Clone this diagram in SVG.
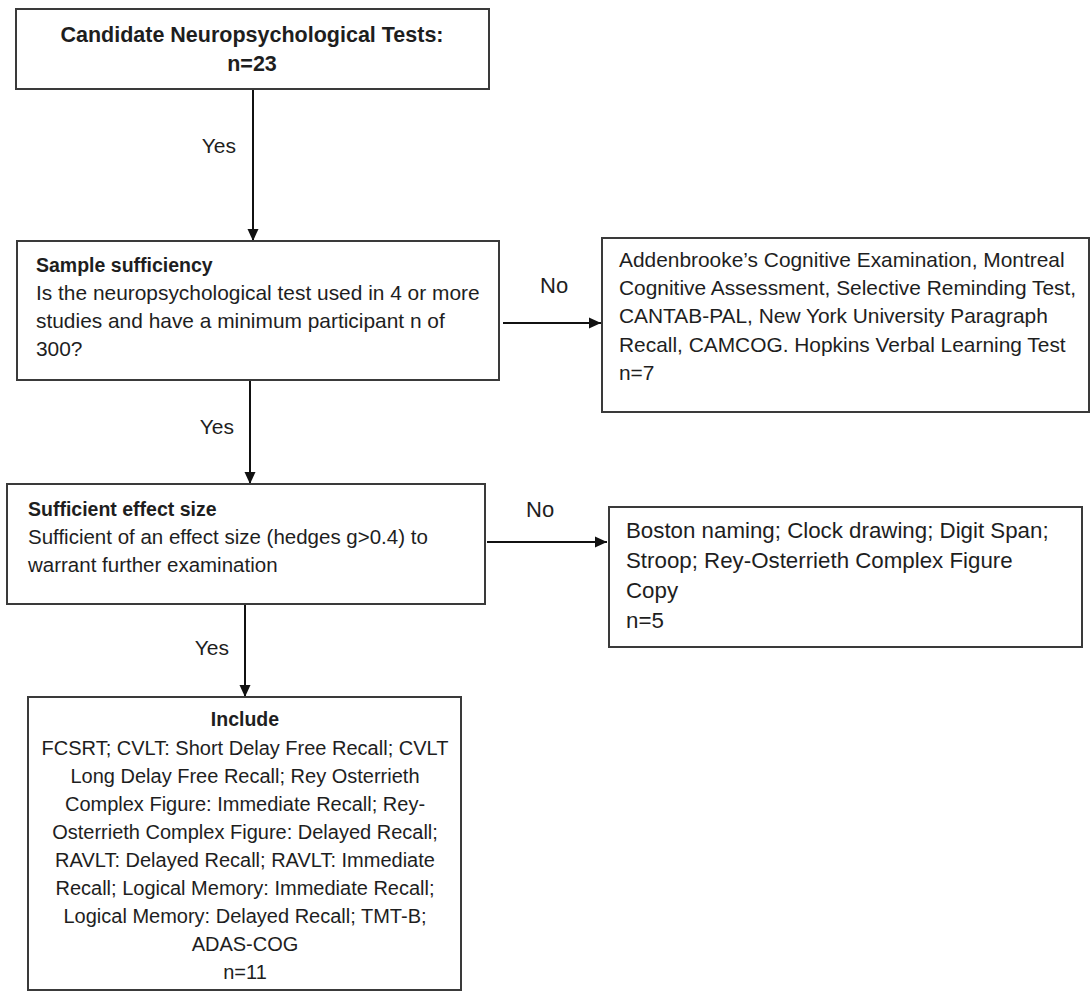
<svg xmlns="http://www.w3.org/2000/svg" width="1091" height="992" viewBox="0 0 1091 992">
<style>
.box{fill:#fff;stroke:#3a3a3a;stroke-width:2}
.t{font-family:"Liberation Sans",Arial,sans-serif;fill:#1e1e1e}
.r{font-size:20.5px}
.r2{font-size:20.9px}
.ri{font-size:20px}
.rb{font-size:22.3px}
.b{font-size:19.5px;font-weight:bold}
.h{font-size:21.5px;font-weight:bold}
.lbl{font-family:"Liberation Sans",Arial,sans-serif;fill:#1e1e1e;font-size:21px}
.c{text-anchor:middle}
.con{stroke:#111;stroke-width:2;fill:none}
</style>
<defs>
<marker id="arr" markerUnits="userSpaceOnUse" markerWidth="14" markerHeight="12" refX="12" refY="6" orient="auto">
<path d="M0,0.5 L12,6 L0,11.5 Z" fill="#111"/>
</marker>
</defs>
<rect width="1091" height="992" fill="#fff"/>
<g id="connectors">
<line class="con" x1="253" y1="89" x2="253" y2="241" marker-end="url(#arr)"/>
<line class="con" x1="250" y1="380" x2="250" y2="484" marker-end="url(#arr)"/>
<line class="con" x1="245" y1="604" x2="245" y2="697" marker-end="url(#arr)"/>
<line class="con" x1="503" y1="323" x2="601" y2="323" marker-end="url(#arr)"/>
<line class="con" x1="487" y1="542" x2="607" y2="542" marker-end="url(#arr)"/>
<text class="lbl" x="236" y="153" text-anchor="end">Yes</text>
<text class="lbl" x="234" y="434" text-anchor="end">Yes</text>
<text class="lbl" x="229" y="655" text-anchor="end">Yes</text>
<text class="lbl" x="540" y="293" style="font-size:22px">No</text>
<text class="lbl" x="526" y="517" style="font-size:22px">No</text>
</g>
<g id="candidates">
<rect class="box" x="16" y="9" width="473" height="80"/>
<text class="t h c" x="252" y="42">Candidate Neuropsychological Tests:</text>
<text class="t h c" x="252" y="71">n=23</text>
</g>
<g id="sample-sufficiency">
<rect class="box" x="17" y="241" width="482" height="139"/>
<text class="t b" x="36" y="272">Sample sufficiency</text>
<text class="t r2" x="36" y="300">Is the neuropsychological test used in 4 or more</text>
<text class="t r2" x="36" y="328">studies and have a minimum participant n of</text>
<text class="t r2" x="36" y="356">300?</text>
</g>
<g id="excluded-sample">
<rect class="box" x="602" y="238" width="487" height="174"/>
<text class="t r2" x="619" y="267">Addenbrooke’s Cognitive Examination, Montreal</text>
<text class="t r2" x="619" y="295">Cognitive Assessment, Selective Reminding Test,</text>
<text class="t r2" x="619" y="323">CANTAB-PAL, New York University Paragraph</text>
<text class="t r2" x="619" y="352">Recall, CAMCOG. Hopkins Verbal Learning Test</text>
<text class="t r2" x="619" y="380">n=7</text>
</g>
<g id="effect-size">
<rect class="box" x="7" y="484" width="478" height="120"/>
<text class="t b" x="28" y="516">Sufficient effect size</text>
<text class="t r" x="28" y="544">Sufficient of an effect size (hedges g&gt;0.4) to</text>
<text class="t r" x="28" y="572">warrant further examination</text>
</g>
<g id="excluded-effect">
<rect class="box" x="609" y="507" width="473" height="140"/>
<text class="t rb" x="626" y="538">Boston naming; Clock drawing; Digit Span;</text>
<text class="t rb" x="626" y="568">Stroop; Rey-Osterrieth Complex Figure</text>
<text class="t rb" x="626" y="598">Copy</text>
<text class="t rb" x="626" y="628">n=5</text>
</g>
<g id="include">
<rect class="box" x="28" y="697" width="433" height="293"/>
<text class="t b c" x="245" y="726">Include</text>
<text class="t ri c" x="245" y="755">FCSRT; CVLT: Short Delay Free Recall; CVLT</text>
<text class="t ri c" x="245" y="783">Long Delay Free Recall; Rey Osterrieth</text>
<text class="t ri c" x="245" y="811">Complex Figure: Immediate Recall; Rey-</text>
<text class="t ri c" x="245" y="839">Osterrieth Complex Figure: Delayed Recall;</text>
<text class="t ri c" x="245" y="867">RAVLT: Delayed Recall; RAVLT: Immediate</text>
<text class="t ri c" x="245" y="895">Recall; Logical Memory: Immediate Recall;</text>
<text class="t ri c" x="245" y="923">Logical Memory: Delayed Recall; TMT-B;</text>
<text class="t ri c" x="245" y="951">ADAS-COG</text>
<text class="t ri c" x="245" y="979">n=11</text>
</g>
</svg>
